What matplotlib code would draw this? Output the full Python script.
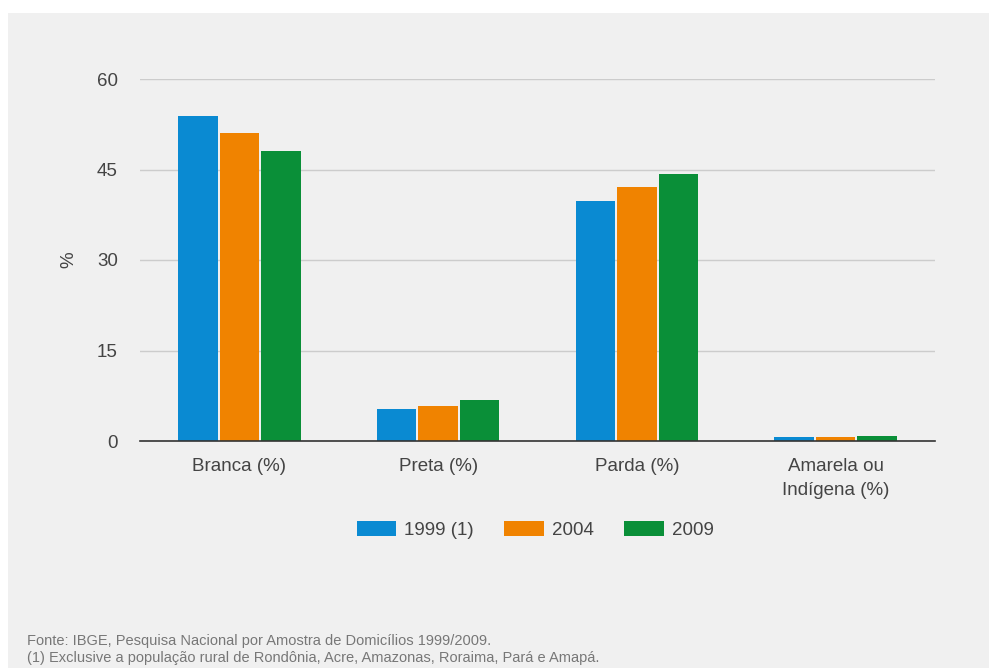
import matplotlib.pyplot as plt
from matplotlib.patches import Rectangle, Patch
import numpy as np

# dados
categorias = ['Branca (%)', 'Preta (%)', 'Parda (%)', 'Amarela ou\nIndígena (%)']
anos = ['1999 (1)', '2004', '2009']
v1999 = [53.9, 5.3, 39.8, 0.6]
v2004 = [51.1, 5.8, 42.1, 0.6]
v2009 = [48.0, 6.8, 44.2, 0.75]
cores = ['#0a8ad2', '#f08300', '#0a8f38']
yticks = [0, 15, 30, 45, 60]

plt.rcParams['font.family'] = ['Liberation Sans', 'DejaVu Sans']

W, H = 989, 668
fs = 13.5
fig = plt.figure(figsize=(W / 100, H / 100), dpi=100, facecolor='white')

# painel cinza de fundo
fig.patches.append(Rectangle((8 / W, 0), 1, (H - 13) / H, transform=fig.transFigure,
                             facecolor='#f0f0f0', edgecolor='none', zorder=-10))

ax = fig.add_axes([140 / W, (H - 441) / H, (935 - 140) / W, (441 - 79) / H])
ax.set_facecolor('none')

x = np.arange(len(categorias))
largura = 0.199
passo = 0.209
for i, (vals, cor, ano) in enumerate(zip([v1999, v2004, v2009], cores, anos)):
    ax.bar(x + (i - 1) * passo, vals, width=largura, color=cor, label=ano, zorder=3)

ax.set_xlim(-0.5, 3.5)
ax.set_ylim(0, 60)
ax.set_yticks(yticks)
ax.set_xticks(x)
ax.set_xticklabels(categorias, fontsize=fs, color='#444444', linespacing=1.55)
ax.tick_params(axis='y', labelsize=fs, labelcolor='#444444', length=0, pad=16)
ax.tick_params(axis='x', length=0, pad=12)
ax.grid(axis='y', color='#cccccc', linewidth=1, zorder=0)
for s in ['top', 'right', 'left']:
    ax.spines[s].set_visible(False)
ax.spines['bottom'].set_color('#333333')
ax.spines['bottom'].set_linewidth(1.2)
ax.spines['bottom'].set_zorder(4)
ax.set_ylabel('%', fontsize=fs, color='#444444', labelpad=14)

handles = [Patch(facecolor=c, edgecolor='none') for c in cores]
fig.legend(handles, anos, loc='center', bbox_to_anchor=(535 / W, (H - 530) / H),
           ncol=3, frameon=False, fontsize=fs, labelcolor='#444444',
           handlelength=2.1, handleheight=0.85, handletextpad=0.42, columnspacing=1.65)

fig.text(27 / W, (H - 641) / H, 'Fonte: IBGE, Pesquisa Nacional por Amostra de Domicílios 1999/2009.',
         fontsize=10.5, color='#777777', va='center', ha='left')
fig.text(27 / W, (H - 658) / H, '(1) Exclusive a população rural de Rondônia, Acre, Amazonas, Roraima, Pará e Amapá.',
         fontsize=10.5, color='#777777', va='center', ha='left')

fig.savefig('out.png', dpi=100, facecolor='white')
